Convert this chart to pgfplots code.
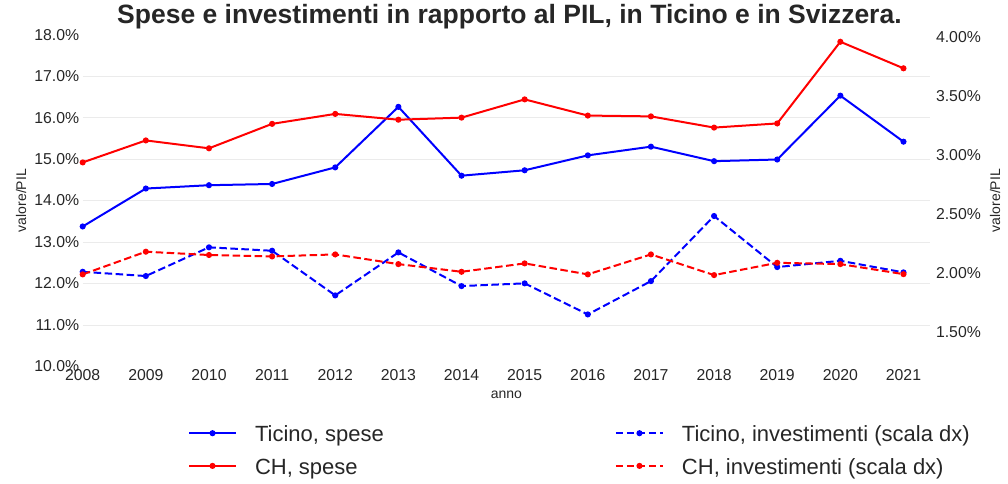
\documentclass[border=0pt]{standalone}
\usepackage{fontspec}
\setmainfont{Liberation Sans}
\usepackage{pgfplots}
\pgfplotsset{compat=1.18}
\definecolor{txt}{HTML}{262626}
\definecolor{grd}{HTML}{EBEBEB}
\pgfplotsset{
 common/.style={
  scale only axis, width=847.3pt, height=331.7pt,
  at={(82.7pt,116.6pt)}, anchor=south west,
  xmin=2008, xmax=2021.42,
  axis line style={draw=none},
  major tick length=0pt,
  /pgf/number format/assume math mode=true,
  tick label style={font=\fontsize{15.8}{18}\selectfont, text=txt},
  label style={font=\fontsize{14}{16}\selectfont, text=txt},
  legend image code/.code={\draw[mark repeat=2,mark phase=2,##1] plot coordinates {(0pt,3.5pt) (23.5pt,3.5pt) (47pt,3.5pt)};},
  legend cell align=left,
  legend style={draw=none, fill=none, inner sep=0pt, outer sep=0pt,
    font=\fontsize{22}{26}\selectfont, text=txt, anchor=north west,
    row sep=12.7pt, nodes={inner sep=0pt, text height=15pt, text depth=5pt},
    /tikz/every odd column/.style={column sep=18pt}},
 },
 ser/.style={line width=2pt, mark=*, mark size=2pt},
 dsh/.style={ser, dash pattern=on 7.5pt off 3.5pt, mark options={solid}},
}
\begin{document}
\begin{tikzpicture}
\useasboundingbox (0,0) rectangle (1008pt,483pt);
\begin{axis}[common,
  ymin=10, ymax=18,
  ytick={11,12,13,14,15,16,17},
  yticklabels={11.0\%,12.0\%,13.0\%,14.0\%,15.0\%,16.0\%,17.0\%},
  extra y ticks={10,18},
  extra y tick labels={10.0\%,18.0\%},
  extra y tick style={grid=none},
  ymajorgrids, grid style={grd, line width=0.8pt},
  xtick={2008,2009,2010,2011,2012,2013,2014,2015,2016,2017,2018,2019,2020,2021},
  xticklabels={2008,2009,2010,2011,2012,2013,2014,2015,2016,2017,2018,2019,2020,2021},
  ylabel={valore/PIL},
  ylabel style={at={(axis description cs:-0.0728,0.5)}, anchor=center},
  xlabel={anno},
  xlabel style={at={(axis description cs:0.5,-0.086)}, anchor=center},
  title={Spese e investimenti in rapporto al PIL, in Ticino e in Svizzera.},
  title style={at={(axis description cs:0.5036,1.0163)}, anchor=base, yshift=0pt, font=\bfseries\fontsize{26.5}{30}\selectfont, text=txt},
  legend style={at={(axis description cs:0.1243,-0.1818)}},
]
\addplot[ser, color=blue] coordinates {
(2008,13.375) (2009,14.29) (2010,14.37) (2011,14.40) (2012,14.80) (2013,16.26) (2014,14.60)
(2015,14.73) (2016,15.09) (2017,15.30) (2018,14.95) (2019,14.99) (2020,16.53) (2021,15.42)};
\addlegendentry{Ticino, spese}
\addplot[ser, color=red] coordinates {
(2008,14.92) (2009,15.45) (2010,15.26) (2011,15.85) (2012,16.09) (2013,15.95) (2014,16.00)
(2015,16.44) (2016,16.05) (2017,16.03) (2018,15.76) (2019,15.86) (2020,17.83) (2021,17.19)};
\addlegendentry{CH, spese}
\end{axis}
\begin{axis}[common,
  ymin=1.209, ymax=4.017,
  axis y line*=right, axis x line=none,
  ytick={1.5,2,2.5,3,3.5,4},
  yticklabels={1.50\%,2.00\%,2.50\%,3.00\%,3.50\%,4.00\%},
  yticklabel style={xshift=2.5pt},
  ylabel={valore/PIL},
  ylabel style={at={(axis description cs:1.0767,0.5)}, anchor=center},
  legend style={at={(axis description cs:0.6282,-0.1818)}},
]
\addplot[dsh, color=blue] coordinates {
(2008,2.010) (2009,1.974) (2010,2.217) (2011,2.188) (2012,1.810) (2013,2.174) (2014,1.889)
(2015,1.912) (2016,1.649) (2017,1.931) (2018,2.482) (2019,2.050) (2020,2.103) (2021,2.005)};
\addlegendentry{Ticino, investimenti (scala dx)}
\addplot[dsh, color=red] coordinates {
(2008,1.988) (2009,2.180) (2010,2.152) (2011,2.140) (2012,2.157) (2013,2.075) (2014,2.010)
(2015,2.081) (2016,1.988) (2017,2.157) (2018,1.982) (2019,2.086) (2020,2.075) (2021,1.990)};
\addlegendentry{CH, investimenti (scala dx)}
\end{axis}
\end{tikzpicture}
\end{document}
